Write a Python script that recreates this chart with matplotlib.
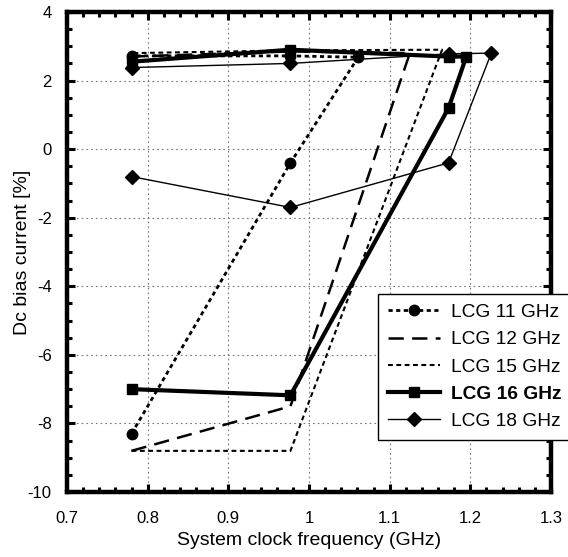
import matplotlib
matplotlib.use("Agg")
import matplotlib.pyplot as plt
from matplotlib.ticker import MultipleLocator

plt.rcParams['font.family'] = ['Liberation Sans', 'DejaVu Sans']
plt.rcParams['lines.scale_dashes'] = False
plt.rcParams['axes.unicode_minus'] = False

# Data
lcg11_x = [0.78, 0.977, 1.061, 0.977, 0.78]
lcg11_y = [-8.3, -0.4, 2.68, 2.72, 2.72]

lcg12_x = [0.78, 0.977, 1.125, 0.977, 0.78]
lcg12_y = [-8.8, -7.5, 2.8, 2.85, 2.7]

lcg15_x = [0.78, 0.977, 1.165, 0.977, 0.78]
lcg15_y = [-8.8, -8.8, 2.9, 2.88, 2.8]

lcg16_x = [0.78, 0.977, 1.173, 1.195, 1.173, 0.977, 0.78]
lcg16_y = [-7.0, -7.18, 1.2, 2.7, 2.7, 2.9, 2.55]

lcg18_x = [0.78, 0.977, 1.173, 1.226, 1.173, 0.977, 0.78]
lcg18_y = [-0.8, -1.7, -0.4, 2.8, 2.78, 2.5, 2.38]

labels = ["LCG 11 GHz", "LCG 12 GHz", "LCG 15 GHz", "LCG 16 GHz", "LCG 18 GHz"]
x_ticks = [0.7, 0.8, 0.9, 1.0, 1.1, 1.2, 1.3]
x_ticklabels = ["0.7", "0.8", "0.9", "1", "1.1", "1.2", "1.3"]
y_ticks = [-10, -8, -6, -4, -2, 0, 2, 4]

fig = plt.figure(figsize=(5.68, 5.57), dpi=100)
ax = fig.add_axes([67/568, 1-492/557, (551-67)/568, (492-12)/557])

ax.plot(lcg11_x, lcg11_y, color='black', lw=2.0, dashes=(3, 2.5),
        marker='o', ms=7.5, label=labels[0])
ax.plot(lcg12_x, lcg12_y, color='black', lw=1.8, dashes=(11, 6),
        label=labels[1])
ax.plot(lcg15_x, lcg15_y, color='black', lw=1.5, dashes=(3.5, 2.5),
        label=labels[2])
ax.plot(lcg16_x, lcg16_y, color='black', lw=3.0, ls='-',
        marker='s', ms=7, label=labels[3])
ax.plot(lcg18_x, lcg18_y, color='black', lw=1.0, ls='-',
        marker='D', ms=7, label=labels[4])

ax.set_xlim(0.7, 1.3)
ax.set_ylim(-10, 4)
ax.set_xticks(x_ticks)
ax.set_xticklabels(x_ticklabels)
ax.set_yticks(y_ticks)
ax.xaxis.set_minor_locator(MultipleLocator(0.02))
ax.yaxis.set_minor_locator(MultipleLocator(0.5))
ax.tick_params(which='both', direction='in', top=True, right=True, labelsize=12, colors='black')
ax.tick_params(which='major', length=6, width=2.2)
ax.tick_params(axis='x', which='major', pad=14)
ax.tick_params(axis='y', which='major', pad=11)
ax.tick_params(which='minor', length=3.5, width=2.2)
for s in ax.spines.values():
    s.set_linewidth(3.2)

ax.grid(True, which='major', color='#777777', lw=0.8, dashes=(1.2, 2.2))
ax.set_axisbelow(True)

ax.set_xlabel("System clock frequency (GHz)", fontsize=14)
ax.set_ylabel("Dc bias current [%]", fontsize=14)
ax.xaxis.set_label_coords(0.5, (492-532)/480)
ax.yaxis.set_label_coords((31-67)/484, 0.5)

leg = ax.legend(loc='upper left', bbox_to_anchor=(378/568, 1-294/557),
                bbox_transform=fig.transFigure, fontsize=13.75, frameon=True,
                fancybox=False, edgecolor='black', framealpha=1,
                handlelength=2.75, handletextpad=0.55, borderpad=0.5,
                labelspacing=0.52, borderaxespad=0)
leg.get_frame().set_linewidth(1.0)
leg.set_zorder(10)
for t in leg.get_texts():
    if t.get_text() == "LCG 16 GHz":
        t.set_fontweight('bold')

fig.savefig("out.png", dpi=100)
